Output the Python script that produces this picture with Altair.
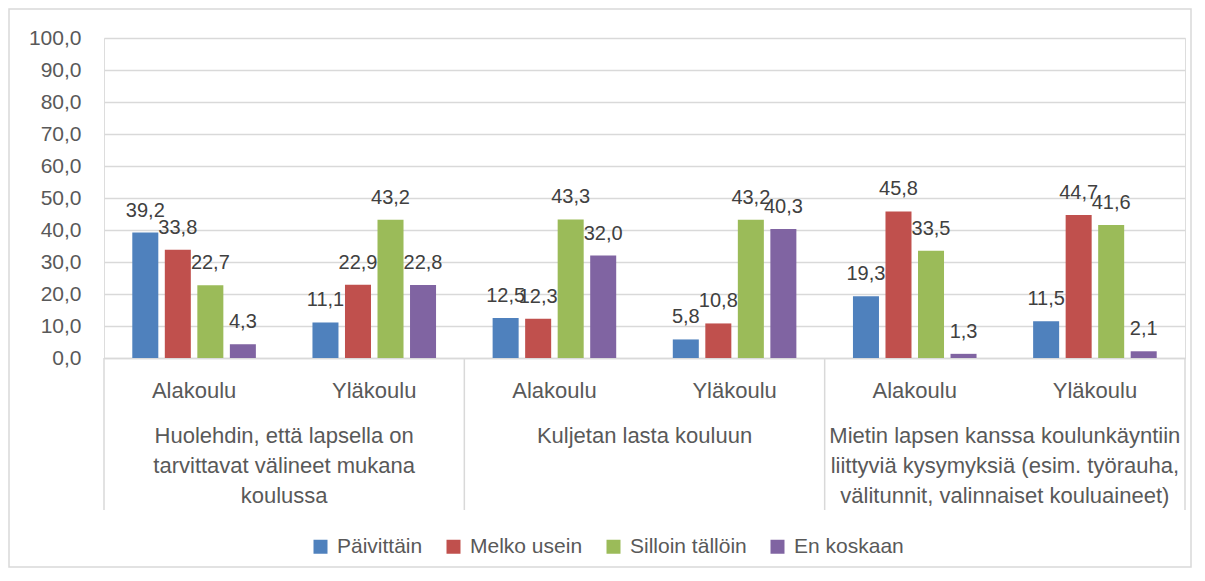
import altair as alt
import pandas as pd

# ---- data ----
groups = [
    "Huolehdin, että lapsella on\ntarvittavat välineet mukana\nkoulussa",
    "Kuljetan lasta kouluun",
    "Mietin lapsen kanssa koulunkäyntiin\nliittyviä kysymyksiä (esim. työrauha,\nvälitunnit, valinnaiset kouluaineet)",
]
levels = ["Alakoulu", "Yläkoulu"]
series = ["Päivittäin", "Melko usein", "Silloin tällöin", "En koskaan"]
paivittain = [39.2, 11.1, 12.5, 5.8, 19.3, 11.5]
melko_usein = [33.8, 22.9, 12.3, 10.8, 45.8, 44.7]
silloin_talloin = [22.7, 43.2, 43.3, 43.2, 33.5, 41.6]
en_koskaan = [4.3, 22.8, 32.0, 40.3, 1.3, 2.1]
colors = ["#4F81BD", "#C0504D", "#9BBB59", "#8064A2"]
y_ticks = [0, 10, 20, 30, 40, 50, 60, 70, 80, 90, 100]
boundaries = [0, 1, 2, 3]

FONT = "Liberation Sans"
GRAY = "#d9d9d9"
LABEL = "#595959"

rows = []
for s, vals in zip(series, [paivittain, melko_usein, silloin_talloin, en_koskaan]):
    for i, v in enumerate(vals):
        g, l = divmod(i, 2)
        rows.append({"key": f"{g}|{levels[l]}", "group": groups[g],
                     "level": levels[l], "series": s, "value": v})
df = pd.DataFrame(rows)
keys = [f"{g}|{l}" for g in range(len(groups)) for l in levels]

x_main = alt.X("key:N", sort=keys,
               scale=alt.Scale(paddingInner=0, paddingOuter=0),
               axis=alt.Axis(title=None, labelExpr="split(datum.label, '|')[1]",
                             ticks=False, tickSize=0, domainColor=GRAY, domainWidth=1.5,
                             labelFontSize=22, labelColor=LABEL, labelFont=FONT,
                             labelPadding=39, labelBaseline="alphabetic", labelAngle=0))
x_off = alt.XOffset("series:N", sort=series,
                    scale=alt.Scale(paddingInner=0.2, paddingOuter=0.87))
y_main = alt.Y("value:Q", scale=alt.Scale(domain=[0, 100], nice=False),
               axis=alt.Axis(title=None, values=y_ticks,
                             labelExpr="replace(format(datum.value, '.1f'), '.', ',')",
                             domain=False, ticks=False, gridColor=GRAY, gridWidth=1.5,
                             labelFontSize=21, labelColor=LABEL, labelFont=FONT,
                             labelPadding=23))

base = alt.Chart(df).transform_calculate(
    label="replace(format(datum.value, '.1f'), '.', ',')"
)

bars = base.mark_bar().encode(
    x=x_main, xOffset=x_off, y=y_main,
    color=alt.Color("series:N", sort=series,
                    scale=alt.Scale(domain=series, range=colors),
                    legend=alt.Legend(title=None, orient="none", direction="horizontal",
                                      legendX=206, legendY=498, padding=0,
                                      symbolType="square", symbolSize=196,
                                      symbolStrokeWidth=0, columnPadding=20,
                                      labelFontSize=21, labelColor=LABEL,
                                      labelFont=FONT, labelOffset=6)),
)
texts = base.mark_text(baseline="alphabetic", dy=-16, fontSize=20,
                       color="#404040", font=FONT).encode(
    x=x_main, xOffset=x_off, y=y_main, text="label:N"
)
inner = alt.layer(bars, texts)

group_df = pd.DataFrame({"group": groups})
glabels = alt.Chart(group_df).mark_text(
    lineBreak="\n", fontSize=22, color=LABEL, font=FONT,
    baseline="alphabetic", lineHeight=30, align="center"
).encode(
    x=alt.X("group:N", sort=groups, scale=alt.Scale(paddingInner=0, paddingOuter=0), axis=None),
    y=alt.value(405),
    text="group:N",
)

sep_df = pd.DataFrame({"b": boundaries})
seps = alt.Chart(sep_df).mark_rule(color=GRAY, strokeWidth=1.5).encode(
    x=alt.X("b:Q", scale=alt.Scale(domain=[0, 3], nice=False, zero=False), axis=None),
    y=alt.value(320), y2=alt.value(472),
)

border = alt.Chart(alt.Data(values=[{"a": 1}])).mark_rect(
    fillOpacity=0, stroke=GRAY, strokeWidth=1.5
).encode(
    x=alt.value(-95), x2=alt.value(1087), y=alt.value(-29), y2=alt.value(529)
)

chart = alt.layer(inner, seps, glabels, border).resolve_scale(
    x="independent"
).properties(
    width=1081, height=320,
    autosize=alt.AutoSizeParams(type="none"),
    padding={"left": 96, "top": 30, "right": 11, "bottom": 210},
).configure_view(stroke=None).configure(font=FONT)

chart.save("out.html", embed_options={"renderer": "svg", "actions": False})
